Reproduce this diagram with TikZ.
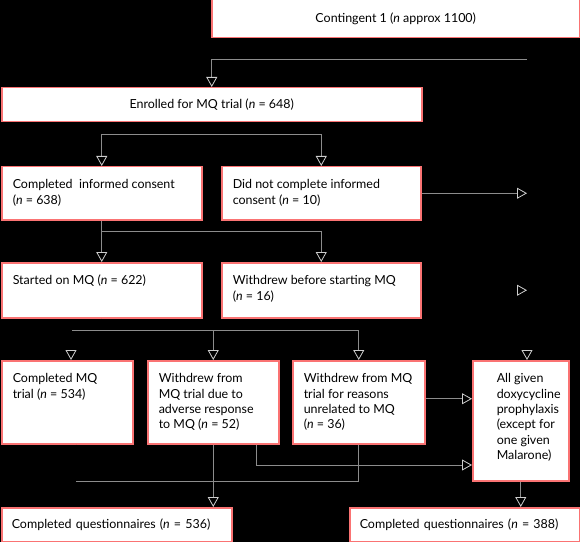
\documentclass[tikz,border=0pt]{standalone}
\usepackage{fontspec}
\setmainfont{Lato}
\usetikzlibrary{arrows.meta}
\definecolor{boxred}{RGB}{250,115,115}
\definecolor{linegray}{RGB}{140,140,140}
\definecolor{darkline}{RGB}{0,0,0}
\definecolor{tipgray}{RGB}{205,205,205}
\newcommand{\boxtxt}[3]{\parbox[c][#2][t]{#1}{\raggedright\strut #3}}
\tikzset{
  box/.style={draw=boxred, fill=white, line width=1.5bp, anchor=north west,
    inner xsep=11bp, inner ysep=11bp, font=\fontsize{12.5}{15.5}\selectfont},
  cbox/.style={box, inner sep=0pt, align=center},
  lbox/.style={box, inner ysep=0pt, minimum height=34bp, align=left},
  flow/.style={linegray, line width=1bp},
  dim/.style={darkline, line width=1bp},
  tip/.style={-{Triangle[open, length=10bp, width=11bp, color=tipgray, line width=0.8bp]}},
}
\begin{document}
\begin{tikzpicture}[x=1bp, y=-1bp]
\fill[black] (0,0) rectangle (580,542);
\useasboundingbox (0,0) rectangle (580,542);

% boxes
\node[cbox, minimum width=368bp, minimum height=38bp] (cont) at (211,-1) {Contingent 1 (\textit{n} approx 1100)};
\node[cbox, minimum width=420bp, minimum height=34bp] (enr) at (1,87) {Enrolled for MQ trial (\textit{n} = 648)};
\node[box] (consent) at (1,166) {\boxtxt{178bp}{31bp}{Completed~ informed consent\\(\textit{n} = 638)}};
\node[box] (didnot) at (221,166) {\boxtxt{177bp}{31bp}{Did not complete informed\\consent (\textit{n} = 10)}};
\node[box] (started) at (1,262) {\boxtxt{178bp}{33bp}{Started on MQ (\textit{n} = 622)}};
\node[box] (before) at (221,262) {\boxtxt{177bp}{33bp}{Withdrew before starting MQ\\(\textit{n} = 16)}};
\node[box] (cmq) at (1,360) {\boxtxt{109bp}{61bp}{Completed MQ\\trial (\textit{n} = 534)}};
\node[box] (adverse) at (147,360) {\boxtxt{109bp}{61bp}{Withdrew from\\MQ trial due to\\adverse response\\to MQ (\textit{n} = 52)}};
\node[box] (unrel) at (292,360) {\boxtxt{110bp}{61bp}{Withdrew from MQ\\trial for reasons\\unrelated to MQ\\(\textit{n} = 36)}};
\node[box, inner xsep=0pt] (allg) at (472,360) {\hspace{24bp}\boxtxt{72bp}{98bp}{All given\\doxycycline\\prophylaxis\\(except for\\one given\\Malarone)}\hspace{11bp}};
\node[lbox, text width=210bp, inner xsep=10bp] (cq1) at (1,507) {Completed questionnaires (\textit{n} = 536)};
\node[lbox, text width=210bp, inner xsep=10bp] (cq2) at (349,507) {Completed questionnaires (\textit{n} = 388)};

% junctions
\coordinate (r1) at (527,60);
\coordinate (j3l) at (71,330);
\coordinate (k1) at (256,465);
\coordinate (k2) at (76,481);

% connectors
\draw[dim] (cont.south) -- (cont.south |- r1);
\draw[flow, tip] (r1) -| (enr.north);
\draw[dim, tip] (r1) -- (r1 |- allg.north);
\draw[dim] (enr.south) -- ++(0,12) coordinate (j1);
\draw[flow, tip] (j1) -| (consent.north);
\draw[flow, tip] (j1) -| (didnot.north);
\draw[flow, tip] (didnot.east) -- (didnot.east -| r1);
\draw[flow] (consent.south) -- ++(0,11) coordinate (j2);
\draw[flow, tip] (j2) -- (started.north);
\draw[flow, tip] (j2) -| (before.north);
\draw[dim, tip] (before.east) -- (before.east -| r1);
\draw[dim] (started.south) -- (started.south |- j3l);
\draw[flow] (j3l) -- (j3l -| unrel.north);
\draw[dim, tip] (j3l) -- (j3l |- cmq.north);
\draw[flow, tip] (j3l -| adverse.north) -- (adverse.north);
\draw[flow, tip] (j3l -| unrel.north) -- (unrel.north);
\draw[flow, tip] ([yshift=3.5bp]unrel.east) -- ([yshift=3.5bp]unrel.east -| allg.west);
\draw[flow, tip] (k1 |- adverse.south) -- (k1) -- (k1 -| allg.west);
\draw[flow, tip] (adverse.south) -- (adverse.south |- cq1.north);
\draw[flow] (unrel.south) |- (k2);
\draw[dim] (k2 |- cmq.south) -- (k2);
\draw[flow, tip] (allg.south) -- (allg.south |- cq2.north);
\end{tikzpicture}
\end{document}
